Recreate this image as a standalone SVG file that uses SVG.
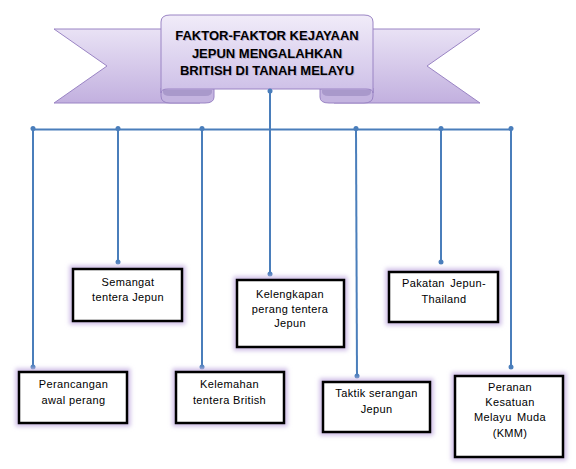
<svg xmlns="http://www.w3.org/2000/svg" width="576" height="469" viewBox="0 0 576 469">
<style>
.box{fill:#fff;stroke:#000;stroke-width:2.5}
.glow{fill:none;stroke:#cdbbe6;stroke-width:7;filter:url(#blur)}
.lbl{font-family:"Liberation Sans",Arial,sans-serif;font-size:11px;letter-spacing:0.35px;fill:#000;text-anchor:middle}
.ttl{font-family:"Liberation Sans",Arial,sans-serif;font-size:13px;font-weight:bold;fill:#000;text-anchor:middle}
.ttls{font-family:"Liberation Sans",Arial,sans-serif;font-size:13px;font-weight:bold;fill:#b9aed0;text-anchor:middle}
.con{stroke:#4a7ebb;stroke-width:2;fill:none}
.dot{fill:#4a7ebb}
.rib{stroke:#9a84c4;stroke-width:1}
</style>
<defs>
<filter id="blur" x="-20%" y="-20%" width="140%" height="140%"><feGaussianBlur stdDeviation="2"/></filter>
<linearGradient id="gPanel" x1="0" y1="0" x2="0" y2="1"><stop offset="0" stop-color="#f1ecf9"/><stop offset="1" stop-color="#cdbfe7"/></linearGradient>
<linearGradient id="gTail" x1="0" y1="0" x2="0" y2="1"><stop offset="0" stop-color="#e9e2f5"/><stop offset="1" stop-color="#c2b0df"/></linearGradient>
</defs>

<g id="banner">
<path class="rib" fill="url(#gTail)" d="M54,29 L200,29 L200,103 L54,103 L107,66 Z"/>
<path class="rib" fill="url(#gTail)" d="M480,29 L334,29 L334,103 L480,103 L427,66 Z"/>
<path class="rib" fill="#c4b4e0" d="M161,88 L214,88 L214,97 Q214,103 205,103 L170,103 Q161,103 161,96 Z"/>
<path fill="#a999cb" d="M163,90 L212,90 Q213,96 205,96 L170,96 Q163,96 163,92 Z"/>
<path class="rib" fill="#c4b4e0" d="M373,88 L320,88 L320,97 Q320,103 329,103 L364,103 Q373,103 373,96 Z"/>
<path fill="#a999cb" d="M371,90 L322,90 Q321,96 329,96 L364,96 Q371,96 371,92 Z"/>
<path class="rib" fill="url(#gPanel)" d="M161,22 Q161,15 170,15 L364,15 Q373,15 373,22 L373,93 Q373,89 366,89 L168,89 Q161,89 161,93 Z"/>
<text class="ttls" x="268" y="41">FAKTOR-FAKTOR KEJAYAAN</text>
<text class="ttls" x="268" y="59">JEPUN MENGALAHKAN</text>
<text class="ttls" x="268" y="76">BRITISH DI TANAH MELAYU</text>
<text class="ttl" x="267" y="40">FAKTOR-FAKTOR KEJAYAAN</text>
<text class="ttl" x="267" y="58">JEPUN MENGALAHKAN</text>
<text class="ttl" x="267" y="75">BRITISH DI TANAH MELAYU</text>
</g>

<g id="connectors">
<path class="con" d="M270,91 L270,274"/>
<path class="con" d="M33,129.5 L511,129.5"/>
<path class="con" d="M33,129.5 L33,367"/>
<path class="con" d="M118,129.5 L118,262"/>
<path class="con" d="M202,129.5 L202,367"/>
<path class="con" d="M356,129.5 L357,376"/>
<path class="con" d="M441,129.5 L441,262"/>
<path class="con" d="M511,129.5 L511,367"/>
<circle class="dot" cx="270" cy="91" r="2.5"/>
<circle class="dot" cx="33" cy="128.5" r="2.5"/>
<circle class="dot" cx="118" cy="128.5" r="2.5"/>
<circle class="dot" cx="202" cy="128.5" r="2.5"/>
<circle class="dot" cx="356" cy="128.5" r="2.5"/>
<circle class="dot" cx="441" cy="128.5" r="2.5"/>
<circle class="dot" cx="511" cy="128.5" r="2.5"/>
<circle class="dot" cx="33" cy="367" r="2.5"/>
<circle class="dot" cx="118" cy="262" r="2.5"/>
<circle class="dot" cx="202" cy="367" r="2.5"/>
<circle class="dot" cx="270" cy="274" r="2.5"/>
<circle class="dot" cx="357" cy="376" r="2.5"/>
<circle class="dot" cx="441" cy="262" r="2.5"/>
<circle class="dot" cx="511" cy="367" r="2.5"/>
</g>

<g id="perancangan">
<rect class="glow" x="19" y="372" width="108" height="51"/>
<rect class="box" x="19" y="372" width="108" height="51"/>
<text class="lbl" x="73.5" y="388">Perancangan</text>
<text class="lbl" x="73.5" y="404">awal perang</text>
</g>

<g id="semangat">
<rect class="glow" x="73" y="269" width="109" height="52"/>
<rect class="box" x="73" y="269" width="109" height="52"/>
<text class="lbl" x="128" y="286">Semangat</text>
<text class="lbl" x="128" y="301">tentera Jepun</text>
</g>

<g id="kelemahan">
<rect class="glow" x="176" y="372" width="108" height="51"/>
<rect class="box" x="176" y="372" width="108" height="51"/>
<text class="lbl" x="229.5" y="388">Kelemahan</text>
<text class="lbl" x="229.5" y="404">tentera British</text>
</g>

<g id="kelengkapan">
<rect class="glow" x="237" y="280" width="107" height="67"/>
<rect class="box" x="237" y="280" width="107" height="67"/>
<text class="lbl" x="290" y="298">Kelengkapan</text>
<text class="lbl" x="290" y="313">perang tentera</text>
<text class="lbl" x="290" y="327">Jepun</text>
</g>

<g id="taktik">
<rect class="glow" x="323" y="382" width="107" height="50"/>
<rect class="box" x="323" y="382" width="107" height="50"/>
<text class="lbl" x="376.5" y="397">Taktik serangan</text>
<text class="lbl" x="376.5" y="413">Jepun</text>
</g>

<g id="pakatan">
<rect class="glow" x="389" y="272" width="109" height="50"/>
<rect class="box" x="389" y="272" width="109" height="50"/>
<text class="lbl" x="444" y="287" word-spacing="2">Pakatan Jepun-</text>
<text class="lbl" x="444" y="303">Thailand</text>
</g>

<g id="peranan">
<rect class="glow" x="455" y="376" width="108" height="81"/>
<rect class="box" x="455" y="376" width="108" height="81"/>
<text class="lbl" x="510" y="391">Peranan</text>
<text class="lbl" x="510" y="406">Kesatuan</text>
<text class="lbl" x="510" y="421" word-spacing="2">Melayu Muda</text>
<text class="lbl" x="510" y="437">(KMM)</text>
</g>
</svg>
